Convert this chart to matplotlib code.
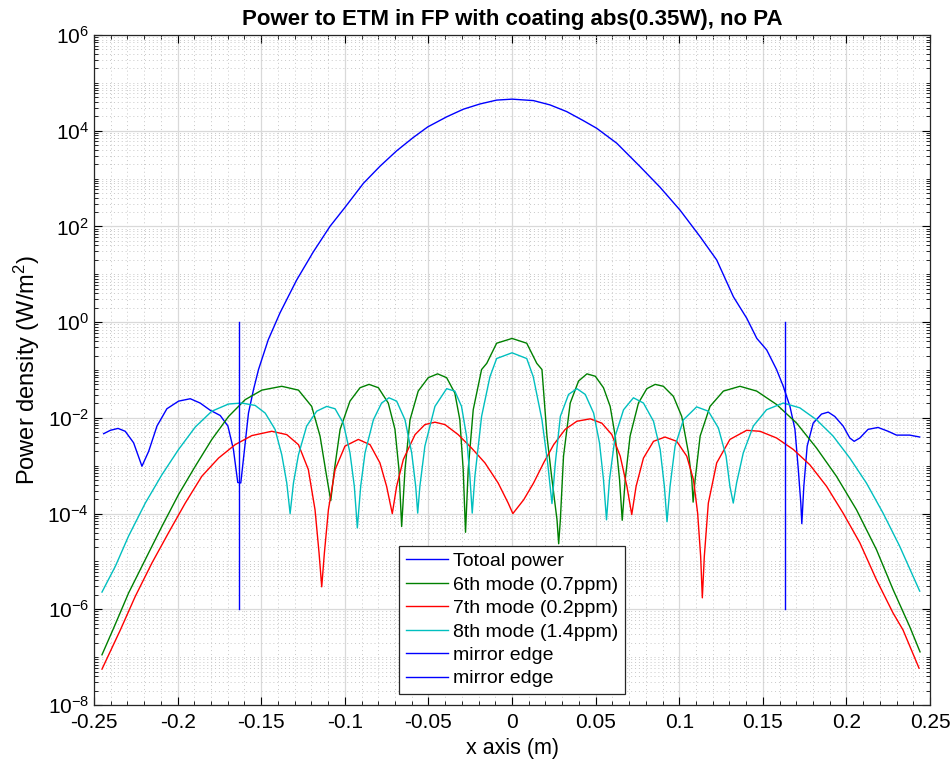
import numpy as np
import matplotlib
matplotlib.use('Agg')
import matplotlib.pyplot as plt
from matplotlib.ticker import FixedLocator, LogFormatterSciNotation, MultipleLocator, NullFormatter

plt.rcParams['font.family'] = ['Liberation Sans', 'DejaVu Sans']
plt.rcParams['mathtext.fontset'] = 'custom'
plt.rcParams['mathtext.rm'] = 'Liberation Sans'
plt.rcParams['mathtext.default'] = 'regular'

# total power density, log10(W/m^2)
x_tot = [-0.2442, -0.2402, -0.2356, -0.2313, -0.2263, -0.2213, -0.2173, -0.2123, -0.2064,
         -0.1994, -0.1924, -0.1865, -0.1805, -0.1745, -0.1699, -0.1666, -0.1640, -0.1622,
         -0.1602, -0.1576, -0.1546, -0.1516, -0.1458, -0.1388, -0.1288, -0.1188, -0.1089,
         -0.1003, -0.0889, -0.0789, -0.0690, -0.0590, -0.0504, -0.0391, -0.0291, -0.0191,
         -0.0092, 0.0, 0.0128, 0.0227, 0.0327, 0.0427, 0.0507, 0.0626, 0.0766, 0.0885,
         0.1005, 0.1124, 0.1224, 0.1324, 0.1404, 0.1464, 0.1523, 0.1582, 0.1622, 0.1662,
         0.1692, 0.1712, 0.1727, 0.1733, 0.1745, 0.1765, 0.1801, 0.1851, 0.1891, 0.1930,
         0.1980, 0.2020, 0.2046, 0.2080, 0.2129, 0.2189, 0.2249, 0.2299, 0.2378, 0.2438]
lg_tot = [-2.33, -2.26, -2.22, -2.28, -2.52, -3.01, -2.70, -2.17, -1.81,
          -1.65, -1.60, -1.69, -1.84, -1.95, -2.17, -2.66, -3.35, -3.36,
          -2.73, -1.90, -1.41, -0.99, -0.37, 0.19, 0.88, 1.47, 2.00,
          2.38, 2.90, 3.26, 3.58, 3.86, 4.08, 4.29, 4.45, 4.56,
          4.64, 4.66, 4.63, 4.54, 4.40, 4.21, 4.05, 3.74, 3.25, 2.82,
          2.34, 1.79, 1.30, 0.53, 0.08, -0.34, -0.58, -0.99, -1.34, -1.76,
          -2.24, -3.08, -3.78, -4.21, -3.43, -2.59, -2.11, -1.92, -1.88, -1.97,
          -2.17, -2.42, -2.49, -2.42, -2.24, -2.20, -2.28, -2.36, -2.36, -2.40]

# 6th mode (0.7ppm)
x_m6 = [-0.2452, -0.2382, -0.2293, -0.2193, -0.2094, -0.1994, -0.1894, -0.1795, -0.1695,
        -0.1596, -0.1496, -0.1377, -0.1277, -0.1198, -0.1148, -0.1112, -0.1084, -0.1062,
        -0.1028, -0.0969, -0.0909, -0.0855, -0.0799, -0.0740, -0.0700, -0.0676, -0.0660,
        -0.0640, -0.0610, -0.0561, -0.0501, -0.0445, -0.0391, -0.0342, -0.0312, -0.0292,
        -0.0278, -0.0262, -0.0232, -0.0182, -0.0151, -0.0092, 0.0, 0.0088, 0.0148,
        0.0179, 0.0209, 0.0239, 0.0269, 0.0279, 0.0289, 0.0308, 0.0348, 0.0398, 0.0448,
        0.0498, 0.0547, 0.0587, 0.0617, 0.0643, 0.0659, 0.0677, 0.0706, 0.0756, 0.0806,
        0.0856, 0.0905, 0.0965, 0.1015, 0.1055, 0.1075, 0.1083, 0.1095, 0.1125, 0.1184,
        0.1264, 0.1363, 0.1463, 0.1582, 0.1702, 0.1821, 0.1940, 0.2060, 0.2179, 0.2279,
        0.2378, 0.2440]
lg_m6 = [-6.95, -6.39, -5.66, -4.96, -4.27, -3.60, -3.01, -2.45, -1.97,
         -1.62, -1.42, -1.34, -1.42, -1.76, -2.38, -3.15, -3.73, -3.08,
         -2.24, -1.65, -1.37, -1.30, -1.37, -1.69, -2.24, -3.08, -4.27,
         -3.08, -2.04, -1.44, -1.16, -1.08, -1.16, -1.48, -2.04, -3.08,
         -4.39, -3.08, -1.83, -0.99, -0.86, -0.44, -0.34, -0.44, -0.86,
         -0.99, -2.38, -3.29, -4.13, -4.63, -4.13, -2.80, -1.69, -1.23, -1.08,
         -1.13, -1.37, -1.76, -2.38, -3.29, -4.14, -3.29, -2.38, -1.69, -1.39,
         -1.30, -1.34, -1.55, -1.97, -2.73, -3.29, -3.76, -3.29, -2.38, -1.76,
         -1.44, -1.34, -1.44, -1.72, -2.11, -2.63, -3.22, -3.92, -4.75, -5.59,
         -6.36, -6.89]

# 7th mode (0.2ppm)
x_m7 = [-0.2452, -0.2342, -0.2253, -0.2153, -0.2054, -0.1954, -0.1855, -0.1755, -0.1656,
        -0.1556, -0.1437, -0.1347, -0.1277, -0.1218, -0.1178, -0.1154, -0.1138, -0.1122,
        -0.1098, -0.1058, -0.0999, -0.0919, -0.0849, -0.0790, -0.0750, -0.0716, -0.0690,
        -0.0650, -0.0580, -0.0521, -0.0461, -0.0401, -0.0322, -0.0242, -0.0162, -0.0083,
        -0.0023, 0.0005, 0.0070, 0.0129, 0.0189, 0.0249, 0.0318, 0.0388, 0.0468, 0.0537,
        0.0597, 0.0647, 0.0687, 0.0716, 0.0742, 0.0786, 0.0846, 0.0915, 0.0985, 0.1045,
        0.1085, 0.1110, 0.1128, 0.1138, 0.1150, 0.1174, 0.1224, 0.1303, 0.1403, 0.1483,
        0.1582, 0.1682, 0.1781, 0.1881, 0.1980, 0.2080, 0.2179, 0.2279, 0.2338, 0.2434]
lg_m7 = [-7.25, -6.43, -5.73, -5.03, -4.40, -3.78, -3.22, -2.84, -2.56,
         -2.37, -2.28, -2.35, -2.56, -3.08, -3.92, -4.82, -5.53, -4.82,
         -3.92, -3.08, -2.59, -2.45, -2.56, -2.94, -3.43, -4.00, -3.43,
         -2.87, -2.35, -2.14, -2.09, -2.14, -2.35, -2.63, -2.94, -3.36,
         -3.78, -4.00, -3.71, -3.36, -2.94, -2.56, -2.24, -2.07, -2.02, -2.11,
         -2.35, -2.80, -3.43, -4.02, -3.43, -2.84, -2.49, -2.40, -2.49, -2.80,
         -3.29, -3.99, -4.89, -5.76, -4.89, -3.78, -2.94, -2.45, -2.26, -2.28,
         -2.42, -2.66, -2.98, -3.43, -3.99, -4.61, -5.38, -6.08, -6.43, -7.23]

# 8th mode (1.4ppm)
x_m8 = [-0.2452, -0.2372, -0.2293, -0.2193, -0.2094, -0.1994, -0.1894, -0.1795, -0.1695,
        -0.1616, -0.1536, -0.1476, -0.1417, -0.1377, -0.1347, -0.1327, -0.1307, -0.1277,
        -0.1228, -0.1168, -0.1108, -0.1058, -0.1009, -0.0969, -0.0943, -0.0925, -0.0905,
        -0.0879, -0.0829, -0.0780, -0.0736, -0.0690, -0.0640, -0.0600, -0.0576, -0.0564,
        -0.0551, -0.0521, -0.0461, -0.0391, -0.0342, -0.0302, -0.0272, -0.0252, -0.0238,
        -0.0222, -0.0182, -0.0132, -0.0092, 0.0, 0.0088, 0.0127, 0.0179, 0.0213, 0.0239,
        0.0259, 0.0289, 0.0338, 0.0388, 0.0438, 0.0488, 0.0523, 0.0547, 0.0565, 0.0583,
        0.0617, 0.0667, 0.0726, 0.0786, 0.0846, 0.0886, 0.0911, 0.0927, 0.0945, 0.0975,
        0.1025, 0.1104, 0.1174, 0.1234, 0.1280, 0.1303, 0.1323, 0.1343, 0.1383, 0.1443,
        0.1522, 0.1622, 0.1721, 0.1821, 0.1920, 0.2020, 0.2119, 0.2219, 0.2318, 0.2438]
lg_m8 = [-5.64, -5.10, -4.47, -3.78, -3.19, -2.66, -2.19, -1.86, -1.71,
         -1.69, -1.74, -1.90, -2.24, -2.77, -3.36, -4.00, -3.36, -2.77,
         -2.17, -1.86, -1.76, -1.81, -2.11, -2.73, -3.43, -4.30, -3.43,
         -2.73, -2.04, -1.69, -1.58, -1.65, -2.04, -2.73, -3.43, -3.99,
         -3.43, -2.59, -1.76, -1.39, -1.44, -1.76, -2.38, -3.22, -3.99,
         -3.22, -1.97, -1.14, -0.76, -0.64, -0.76, -1.14, -2.04, -2.94, -3.79,
         -2.94, -1.97, -1.51, -1.39, -1.51, -1.90, -2.52, -3.29, -4.13, -3.29,
         -2.38, -1.83, -1.58, -1.69, -2.07, -2.66, -3.43, -4.17, -3.43, -2.59,
         -2.04, -1.77, -1.86, -2.21, -2.80, -3.43, -3.78, -3.36, -2.73, -2.17,
         -1.83, -1.69, -1.79, -2.04, -2.38, -2.84, -3.36, -3.99, -4.68, -5.62]

edge_x = 0.163
edge_y = [1e-6, 1e0]

fig = plt.figure(figsize=(9.51, 7.68), dpi=100)
ax = fig.add_axes([0.0988, 0.082, 0.8792, 0.8724])

ax.semilogy(x_tot, 10.0 ** np.array(lg_tot), color='#0000ff', lw=1.0, label='Totoal power')
ax.semilogy(x_m6, 10.0 ** np.array(lg_m6), color='#008000', lw=1.0, label='6th mode (0.7ppm)')
ax.semilogy(x_m7, 10.0 ** np.array(lg_m7), color='#ff0000', lw=1.0, label='7th mode (0.2ppm)')
ax.semilogy(x_m8, 10.0 ** np.array(lg_m8), color='#00bfbf', lw=1.0, label='8th mode (1.4ppm)')
ax.semilogy([-edge_x, -edge_x], edge_y, color='#0000ff', lw=1.0, label='mirror edge')
ax.semilogy([edge_x, edge_x], edge_y, color='#0000ff', lw=1.0, label='mirror edge')

ax.set_xlim(-0.25, 0.25)
ax.set_ylim(1e-8, 1e6)
ax.xaxis.set_minor_locator(MultipleLocator(0.01))
ax.set_xticks(np.arange(-0.25, 0.2501, 0.05))
ax.set_xticklabels(['-0.25', '-0.2', '-0.15', '-0.1', '-0.05', '0',
                    '0.05', '0.1', '0.15', '0.2', '0.25'])

major_y = [10.0 ** e for e in range(-8, 7, 2)]
minor_y = [k * 10.0 ** e for e in range(-8, 6) for k in range(1, 10)
           if not (k == 1 and e % 2 == 0)]
ax.yaxis.set_major_locator(FixedLocator(major_y))
ax.yaxis.set_minor_locator(FixedLocator(minor_y))
ax.yaxis.set_major_formatter(LogFormatterSciNotation())
ax.yaxis.set_minor_formatter(NullFormatter())

ax.grid(True, which='major', color='#d9d9d9', lw=0.9, ls='-')
ax.grid(True, which='minor', color='#c8c8c8', lw=0.7, ls=(0, (1, 3)))
ax.set_axisbelow(True)

ax.tick_params(which='both', direction='in', top=True, right=True, labelsize=15)
ax.tick_params(axis='x', which='major', pad=6)
ax.tick_params(which='major', length=6, width=0.8)
ax.tick_params(which='minor', length=3, width=0.6)
for s in ax.spines.values():
    s.set_color('#262626')
    s.set_linewidth(0.9)

ax.set_title('Power to ETM in FP with coating abs(0.35W), no PA',
             fontsize=16, fontweight='bold', pad=7)
ax.set_xlabel('x axis (m)', fontsize=15.5)
ax.set_ylabel('Power density (W/m$^2$)', fontsize=17)

leg = ax.legend(loc='lower left', bbox_to_anchor=(0.365, 0.016), borderaxespad=0,
                fontsize=14, fancybox=False, framealpha=1, edgecolor='#262626',
                handlelength=2.15, handletextpad=0.25, labelspacing=0.3,
                borderpad=0.35)
leg.get_frame().set_linewidth(0.9)

fig.savefig('out.png', dpi=100)
